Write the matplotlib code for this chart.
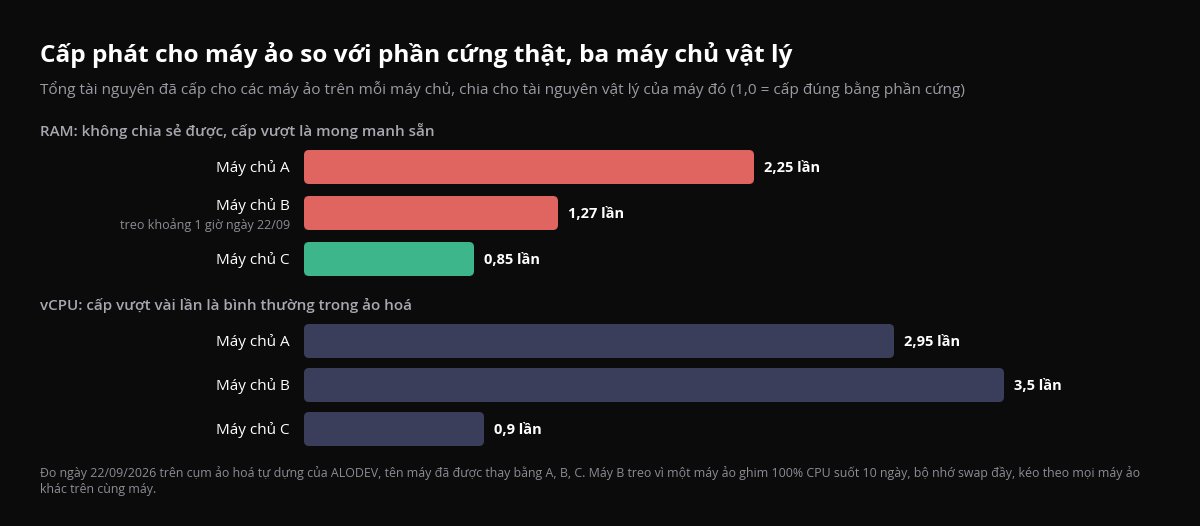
import matplotlib
matplotlib.use("Agg")
from matplotlib import pyplot as plt
from matplotlib.patches import FancyBboxPatch

# data
hosts = ['Máy chủ A', 'Máy chủ B', 'Máy chủ C']
ram_ratio = [2.25, 1.27, 0.85]
vcpu_ratio = [2.95, 3.5, 0.9]
ram_colors = ['#e0645f', '#e0645f', '#3eb68c']
vcpu_color = '#3b3e5a'
ram_notes = ['', 'treo khoảng 1 giờ ngày 22/09', '']

BG = '#0b0b0c'
plt.rcParams['font.family'] = ['Open Sans', 'Noto Sans', 'DejaVu Sans']

fig = plt.figure(figsize=(12, 5.26), dpi=100, facecolor=BG)
ax = fig.add_axes([0, 0, 1, 1])
ax.set_facecolor(BG)
PX = 200.0  # pixels per unit of ratio
ax.set_xlim(-304 / PX, 896 / PX)
ax.set_ylim(526, 0)
ax.axis('off')

def draw_group(values, centers, colors, notes=None):
    bars = ax.barh(centers, values, height=34, color=colors)
    for i, b in enumerate(bars):
        x, y, w, h = b.get_x(), b.get_y(), b.get_width(), b.get_height()
        b.set_visible(False)
        ax.add_patch(FancyBboxPatch((x, y), w, h,
                                    boxstyle='round,pad=0,rounding_size=0.025',
                                    mutation_aspect=PX, fc=b.get_facecolor(),
                                    ec='none'))
        ax.text(x + w + 10 / PX, centers[i] + 1.5, f'{values[i]:g} lần'.replace('.', ','),
                color='white', fontsize=10.5, fontweight='bold',
                va='center', ha='left')
        if notes and notes[i]:
            ax.text(-14 / PX, centers[i] - 6.5, hosts[i], color='white',
                    fontsize=11, va='center', ha='right')
            ax.text(-14 / PX, centers[i] + 12, notes[i], color='#8c8c94',
                    fontsize=9, va='center', ha='right')
        else:
            ax.text(-14 / PX, centers[i] + 1.5, hosts[i], color='white',
                    fontsize=11, va='center', ha='right')

draw_group(ram_ratio, [167, 213, 259], ram_colors, ram_notes)
draw_group(vcpu_ratio, [341, 385, 429], [vcpu_color] * 3)

fig.text(40 / 1200, 1 - 55 / 526, 'Cấp phát cho máy ảo so với phần cứng thật, ba máy chủ vật lý',
         color='white', fontsize=17.6, fontweight='bold', va='center')
fig.text(40 / 1200, 1 - 89 / 526,
         'Tổng tài nguyên đã cấp cho các máy ảo trên mỗi máy chủ, chia cho tài nguyên vật lý của máy đó (1,0 = cấp đúng bằng phần cứng)',
         color='#9a9aa2', fontsize=11.05, va='center')
fig.text(40 / 1200, 1 - 131 / 526, 'RAM: không chia sẻ được, cấp vượt là mong manh sẵn',
         color='#a8a8b0', fontsize=10.9, fontweight='semibold', va='center')
fig.text(40 / 1200, 1 - 305 / 526, 'vCPU: cấp vượt vài lần là bình thường trong ảo hoá',
         color='#a8a8b0', fontsize=10.9, fontweight='semibold', va='center')
fig.text(40 / 1200, 1 - 481 / 526,
         'Đo ngày 22/09/2026 trên cụm ảo hoá tự dựng của ALODEV, tên máy đã được thay bằng A, B, C. Máy B treo vì một máy ảo ghim 100% CPU suốt 10 ngày, bộ nhớ swap đầy, kéo theo mọi máy ảo\nkhác trên cùng máy.',
         color='#8c8c94', fontsize=8.9, va='center', linespacing=1.3)

fig.savefig('out.png', dpi=100, facecolor=BG)
